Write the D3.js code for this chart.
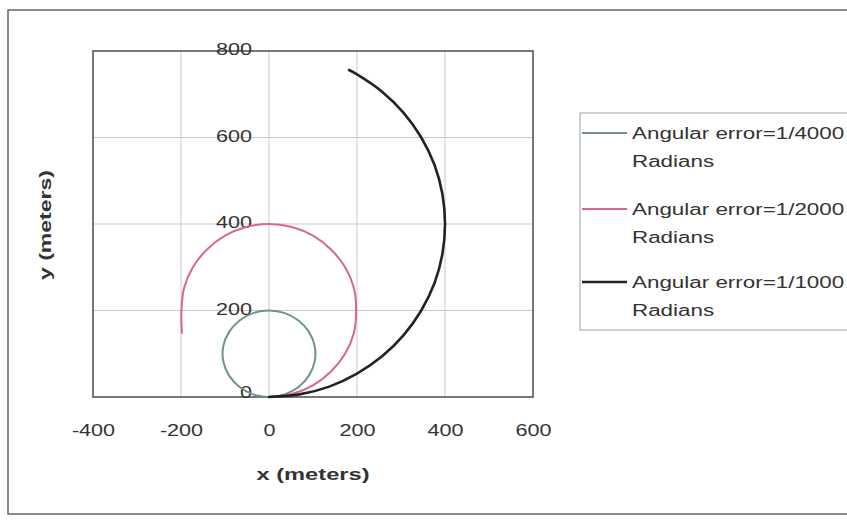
<!DOCTYPE html>
<html>
<head>
<meta charset="utf-8">
<script src="https://cdn.jsdelivr.net/npm/d3@7/dist/d3.min.js"></script>
<style>
  html, body { margin: 0; padding: 0; background: #fff; }
  svg { display: block; }
  text { font-family: Arial, "Liberation Sans", sans-serif; fill: #333; }
</style>
</head>
<body>
<svg id="chart" width="847" height="521"></svg>
<script>
// ---- data ----
const xTicks = [-400, -200, 0, 200, 400, 600];
const yTicks = [0, 200, 400, 600, 800];
const seriesNames = [
  ["Angular error=1/4000", "Radians"],
  ["Angular error=1/2000", "Radians"],
  ["Angular error=1/1000", "Radians"]
];
const seriesColors = ["#6f9480", "#d8678c", "#222222"];
const green = [[0,0],[36,6],[67,23],[91,50],[104,83],[104,117],[91,150],[67,177],[36,194],[0,200],
  [-36,194],[-67,177],[-91,150],[-104,117],[-104,83],[-91,50],[-67,23],[-36,6],[0,0]];
const pink = [[0,0],[52,7],[100,27],[141,59],[173,100],[193,148],[198,200],[193,252],[173,300],[141,341],
  [100,373],[52,393],[0,400],[-52,393],[-100,373],[-141,341],[-173,300],[-193,252],[-199,200],[-198,148]];
const black = [[0,0],[69,6],[137,24],[200,54],[257,94],[306,143],[346,200],[376,263],[394,330],[400,400],
  [394,470],[376,537],[346,600],[306,657],[257,706],[200,746],[182,756]];
const seriesData = [green, pink, black];

// ---- layout ----
const svg = d3.select("#chart");
const plot = { left: 93, right: 533, top: 51, bottom: 397 };
const x = d3.scaleLinear().domain([-400, 600]).range([plot.left, plot.right]);
const y = d3.scaleLinear().domain([0, 800]).range([plot.bottom, plot.top]);

// outer frame
svg.append("rect").attr("x", 8).attr("y", 10).attr("width", 845).attr("height", 504)
  .attr("fill", "#fff").attr("stroke", "#666").attr("stroke-width", 1.5);

// gridlines
const grid = svg.append("g").attr("stroke", "#c9c9c9").attr("stroke-width", 1);
grid.selectAll(".vg").data(xTicks.slice(1, -1)).join("line")
  .attr("x1", d => x(d)).attr("x2", d => x(d)).attr("y1", plot.top).attr("y2", plot.bottom);
grid.selectAll(".hg").data(yTicks.slice(1, -1)).join("line")
  .attr("y1", d => y(d)).attr("y2", d => y(d)).attr("x1", plot.left).attr("x2", plot.right);

// plot border
svg.append("rect").attr("x", plot.left).attr("y", plot.top)
  .attr("width", plot.right - plot.left).attr("height", plot.bottom - plot.top)
  .attr("fill", "none").attr("stroke", "#4a4a4a").attr("stroke-width", 1.5);

// x axis
const tickSx = 1.35;
const fmt = d => String(d);
const xAxis = svg.append("g").attr("transform", `translate(0,${plot.bottom})`)
  .call(d3.axisBottom(x).tickValues(xTicks).tickSize(0).tickFormat(fmt));
xAxis.select(".domain").remove();
xAxis.selectAll("text").attr("y", 0).attr("dy", "0.35em")
  .attr("transform", `translate(0,33) scale(${tickSx},1)`)
  .style("font-size", "16px").style("font-family", "Arial, 'Liberation Sans', sans-serif").attr("fill", "#333");

// y axis at x = 0
const yAxis = svg.append("g").attr("transform", `translate(${x(0)},0)`)
  .call(d3.axisLeft(y).tickValues(yTicks).tickSize(0).tickFormat(fmt));
yAxis.select(".domain").remove();
yAxis.selectAll("text").attr("x", -17 / tickSx).attr("dy", "0.35em")
  .attr("transform", d => `translate(0,${d === 0 ? -5 : -2}) scale(${tickSx},1)`)
  .style("font-size", "16px").style("font-family", "Arial, 'Liberation Sans', sans-serif").attr("fill", "#333");

// curves
const line = d3.line().x(d => x(d[0])).y(d => y(d[1])).curve(d3.curveCatmullRom);
const widths = [2, 2, 2.6];
svg.append("g").selectAll("path").data(seriesData).join("path")
  .attr("d", line).attr("fill", "none")
  .attr("stroke", (d, i) => seriesColors[i]).attr("stroke-width", (d, i) => widths[i])
  .attr("stroke-linejoin", "round").attr("stroke-linecap", "round");

// axis titles
svg.append("g").attr("transform", "translate(313,480) scale(1.48,1)")
  .append("text").attr("text-anchor", "middle").style("font-size", "16px").style("font-weight", "bold")
  .text("x (meters)");
svg.append("g").attr("transform", "translate(51,225) rotate(-90) scale(1.44,1)")
  .append("text").attr("text-anchor", "middle").style("font-size", "16px").style("font-weight", "bold")
  .text("y (meters)");

// legend
const legend = svg.append("g");
legend.append("rect").attr("x", 580).attr("y", 113).attr("width", 280).attr("height", 217)
  .attr("fill", "#fff").attr("stroke", "#a0a0a0").attr("stroke-width", 1);
const legendY = [133, 209, 282];
seriesNames.forEach((lines, i) => {
  const ly = legendY[i];
  legend.append("line").attr("x1", 582).attr("x2", 627).attr("y1", ly).attr("y2", ly)
    .attr("stroke", seriesColors[i]).attr("stroke-width", widths[i]);
  lines.forEach((t, j) => {
    legend.append("g").attr("transform", `translate(632,${ly + j * 28}) scale(1.4,1)`)
      .append("text").attr("dy", "0.35em").style("font-size", "16px").text(t);
  });
});
</script>
</body>
</html>
